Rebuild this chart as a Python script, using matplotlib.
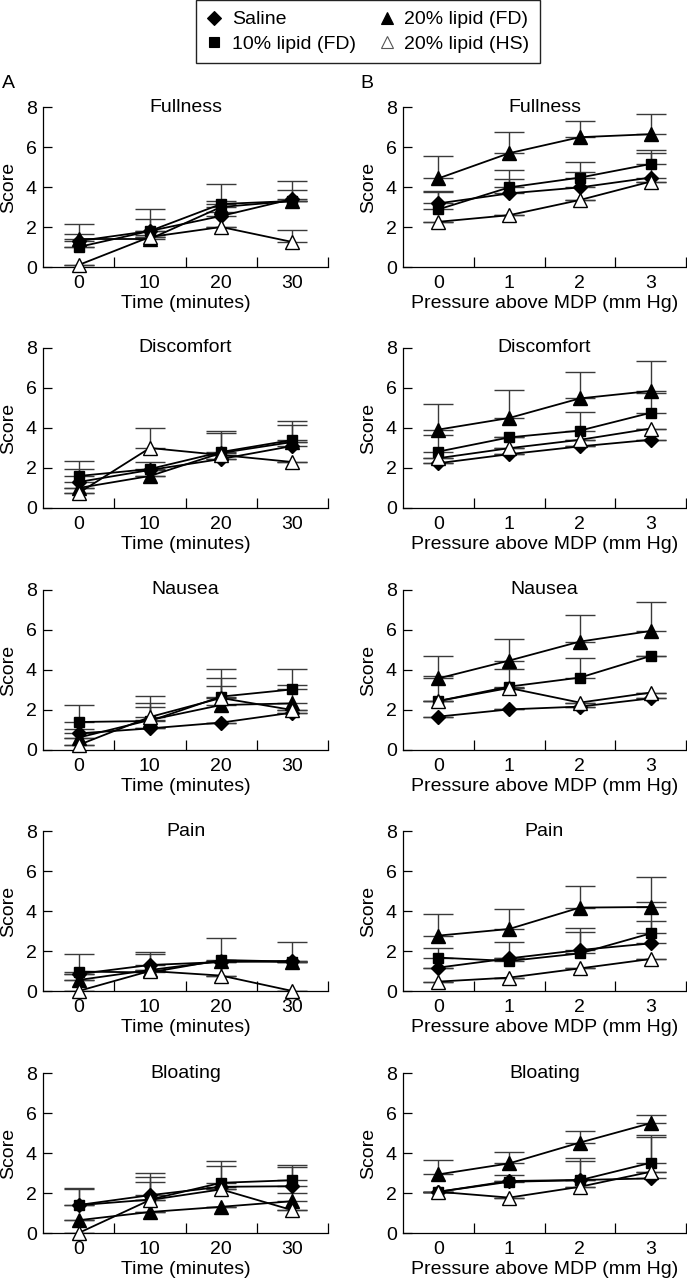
import numpy as np
import matplotlib
matplotlib.use('Agg')
import matplotlib.pyplot as plt
from matplotlib.lines import Line2D

plt.rcParams['font.family'] = ['Liberation Sans', 'DejaVu Sans']
plt.rcParams['font.size'] = 14

time_x = [0, 10, 20, 30]
pressure_x = [0, 1, 2, 3]
symptoms = ['Fullness', 'Discomfort', 'Nausea', 'Pain', 'Bloating']
groups = ['Saline', '10% lipid (FD)', '20% lipid (FD)', '20% lipid (HS)']

# each block: saline, 10% lipid (FD), 20% lipid (FD), 20% lipid (HS)
fullness_time = [[1.3, 1.8, 2.55, 3.4], [1.0, 1.8, 3.15, 3.3],
                 [1.4, 1.4, 3.0, 3.3], [0.1, 1.5, 2.0, 1.25]]
fullness_time_err = [[0.33, 0.58, 0.2, 0.45], [0.0, 1.1, 1.0, 0.0],
                     [0.75, 0.2, 0.3, 1.0], [0.0, 0.0, 0.0, 0.6]]
fullness_press = [[3.18, 3.68, 3.98, 4.47], [2.88, 3.98, 4.47, 5.15],
                  [4.43, 5.69, 6.49, 6.64], [2.26, 2.59, 3.35, 4.27]]
fullness_press_err = [[0.55, 0.74, 0.79, 1.39], [0.94, 0.87, 0.8, 0.57],
                      [1.13, 1.05, 0.81, 0.99], [0.0, 0.0, 0.0, 0.0]]

discomfort_time = [[1.3, 1.9, 2.45, 3.1], [1.6, 1.95, 2.8, 3.4],
                   [1.0, 1.6, 2.75, 3.3], [0.75, 3.0, 2.65, 2.3]]
discomfort_time_err = [[0.65, 0.0, 0.0, 1.07], [0.75, 0.34, 1.03, 0.94],
                       [0.0, 0.0, 1.0, 0.0], [0.0, 1.0, 0.0, 0.0]]
discomfort_press = [[2.24, 2.69, 3.08, 3.41], [2.82, 3.53, 3.87, 4.76],
                    [3.92, 4.5, 5.48, 5.85], [2.49, 2.99, 3.41, 3.97]]
discomfort_press_err = [[0.0, 0.0, 0.0, 0.0], [0.85, 0.0, 0.94, 1.0],
                        [1.26, 1.38, 1.33, 1.51], [0.0, 0.0, 0.0, 0.0]]

nausea_time = [[0.83, 1.08, 1.37, 1.87], [1.4, 1.45, 2.67, 3.03],
               [0.62, 1.5, 2.25, 2.33], [0.25, 1.65, 2.6, 2.0]]
nausea_time_err = [[0.2, 0.0, 0.0, 0.0], [0.85, 1.25, 1.36, 1.0],
                   [0.0, 0.83, 0.95, 0.92], [0.0, 0.48, 1.0, 0.0]]
nausea_press = [[1.67, 2.03, 2.17, 2.58], [2.45, 3.17, 3.62, 4.7],
                [3.58, 4.47, 5.42, 5.95], [2.45, 3.1, 2.37, 2.87]]
nausea_press_err = [[0.0, 0.0, 0.0, 0.0], [1.25, 0.9, 0.96, 0.0],
                    [1.12, 1.06, 1.33, 1.43], [0.0, 0.0, 0.0, 0.0]]

pain_time = [[0.85, 1.3, 1.45, 1.5], [0.97, 0.93, 1.55, 1.47],
             [0.55, 1.05, 1.5, 1.45], [0.0, 1.0, 0.77, 0.0]]
pain_time_err = [[0.0, 0.63, 0.0, 0.0], [0.86, 0.9, 1.08, 0.96],
                 [0.0, 0.0, 0.0, 0.0], [0.0, 0.0, 0.0, 0.0]]
pain_press = [[1.17, 1.63, 2.05, 2.38], [1.67, 1.5, 1.88, 2.88],
              [2.77, 3.1, 4.17, 4.2], [0.47, 0.67, 1.13, 1.6]]
pain_press_err = [[0.0, 0.0, 0.92, 1.12], [0.5, 0.93, 1.25, 1.55],
                  [1.06, 0.98, 1.08, 1.5], [0.0, 0.0, 0.0, 0.0]]

bloating_time = [[1.4, 1.89, 2.31, 2.34], [1.39, 1.67, 2.51, 2.64],
                 [0.64, 1.05, 1.31, 1.59], [0.0, 1.65, 2.18, 1.14]]
bloating_time_err = [[0.78, 1.11, 1.04, 0.97], [0.87, 1.11, 1.1, 0.76],
                     [0.0, 0.0, 0.0, 0.41], [0.0, 0.9, 0.0, 0.0]]
bloating_press = [[2.06, 2.6, 2.65, 2.73], [2.06, 2.56, 2.64, 3.51],
                  [2.93, 3.48, 4.52, 5.49], [2.06, 1.77, 2.31, 3.06]]
bloating_press_err = [[0.0, 0.0, 0.96, 2.06], [0.0, 0.34, 1.09, 1.39],
                      [0.72, 0.59, 0.6, 0.43], [0.0, 0.0, 0.0, 0.0]]

time_panels = [(fullness_time, fullness_time_err), (discomfort_time, discomfort_time_err),
               (nausea_time, nausea_time_err), (pain_time, pain_time_err),
               (bloating_time, bloating_time_err)]
press_panels = [(fullness_press, fullness_press_err), (discomfort_press, discomfort_press_err),
                (nausea_press, nausea_press_err), (pain_press, pain_press_err),
                (bloating_press, bloating_press_err)]

markers = ['D', 's', '^', '^']
faces = ['black', 'black', 'black', 'white']
sizes = [7, 7.5, 9.5, 9.5]

W, H = 687, 1280
fig = plt.figure(figsize=(W / 100, H / 100), dpi=100)

row_bottoms = [267, 508, 750, 991, 1233]


def draw(ax, x, means, errs, xlim, minor, xlabel, title):
    for i in range(4):
        ax.errorbar(x, means[i], yerr=[np.zeros(4), errs[i]], fmt='none',
                    ecolor='#3a3a3a', elinewidth=1, capsize=11, capthick=1, zorder=2)
        ax.plot(x, means[i], color='black', lw=1.3, marker=markers[i], ms=sizes[i],
                mfc=faces[i], mec='black', mew=1, zorder=3 + i, clip_on=False)
    ax.set_xlim(*xlim)
    ax.set_ylim(0, 8)
    ax.set_xticks(x)
    ax.set_xticks(minor, minor=True)
    ax.set_yticks([0, 2, 4, 6, 8])
    ax.tick_params(axis='x', which='major', length=0, pad=6)
    ax.tick_params(axis='x', which='minor', direction='in', length=7, width=0.9)
    ax.tick_params(axis='y', direction='in', length=6.5, width=0.9, pad=4.5)
    for s in ['top', 'right']:
        ax.spines[s].set_visible(False)
    for s in ['left', 'bottom']:
        ax.spines[s].set_linewidth(0.9)
    ax.set_xlabel(xlabel, labelpad=2)
    ax.set_ylabel('Score', labelpad=6)
    ax.text(0.5, 1.0, title, transform=ax.transAxes, ha='center', va='center')


for r in range(5):
    bottom = 1 - row_bottoms[r] / H
    axA = fig.add_axes([43 / W, bottom, 285 / W, 160 / H])
    axB = fig.add_axes([403 / W, bottom, 283 / W, 160 / H])
    draw(axA, time_x, time_panels[r][0], time_panels[r][1], (-5, 35), [5, 15, 25, 35],
         'Time (minutes)', symptoms[r])
    draw(axB, pressure_x, press_panels[r][0], press_panels[r][1], (-0.5, 3.5),
         [0.5, 1.5, 2.5, 3.5], 'Pressure above MDP (mm Hg)', symptoms[r])

fig.text(2 / W, 1 - 83 / H, 'A', va='center', ha='left')
fig.text(360 / W, 1 - 83 / H, 'B', va='center', ha='left')

handles = [Line2D([], [], ls='none', marker=markers[i], ms=[7, 7, 8.5, 8.5][i],
                  mfc=faces[i], mec='black' if i < 3 else '#555555', mew=0.8)
           for i in range(4)]
fig.legend(handles, groups, ncol=2, loc='upper center', bbox_to_anchor=(368 / W, 1.0),
           frameon=True, fancybox=False, edgecolor='#222222', framealpha=1,
           borderaxespad=0, handlelength=0.8, handletextpad=0.5, columnspacing=1.2,
           borderpad=0.55, labelspacing=0.35)

fig.savefig('out.png', dpi=100)
